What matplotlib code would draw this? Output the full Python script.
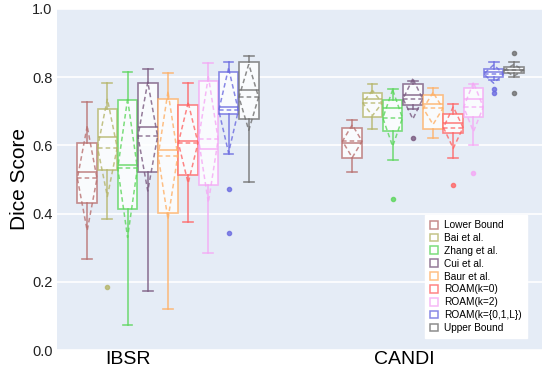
import numpy as np
import matplotlib
matplotlib.use('Agg')
from matplotlib import pyplot as plt
from matplotlib.patches import Patch

plt.rcParams['font.family'] = ['Liberation Sans', 'DejaVu Sans']

methods = ['Lower Bound', 'Bai et al.', 'Zhang et al.', 'Cui et al.', 'Baur et al.',
           'ROAM(k=0)', 'ROAM(k=2)', 'ROAM(k={0,1,L})', 'Upper Bound']
colors = ['#b87070', '#b5b56a', '#5cd65c', '#7a5a80', '#ffb066',
          '#ff6666', '#f5a8f5', '#6b6be0', '#707070']
datasets = ['IBSR', 'CANDI']

# IBSR statistics
ibsr_whislo = [0.267, 0.385, 0.074, 0.174, 0.119, 0.376, 0.284, 0.575, 0.492]
ibsr_q1 = [0.431, 0.528, 0.412, 0.523, 0.401, 0.512, 0.483, 0.692, 0.677]
ibsr_med = [0.521, 0.625, 0.541, 0.653, 0.587, 0.614, 0.590, 0.711, 0.762]
ibsr_q3 = [0.606, 0.705, 0.733, 0.782, 0.735, 0.717, 0.787, 0.816, 0.844]
ibsr_whishi = [0.727, 0.784, 0.815, 0.825, 0.811, 0.784, 0.842, 0.843, 0.861]
ibsr_mean = [0.503, 0.593, 0.533, 0.626, 0.570, 0.607, 0.617, 0.702, 0.741]
ibsr_sd = [0.153, 0.143, 0.203, 0.160, 0.187, 0.118, 0.185, 0.124, 0.097]
ibsr_fliers = [[], [0.184], [], [], [], [], [], [0.473, 0.343], []]

# CANDI statistics
candi_whislo = [0.522, 0.648, 0.558, 0.705, 0.622, 0.563, 0.602, 0.790, 0.799]
candi_q1 = [0.563, 0.683, 0.643, 0.719, 0.648, 0.636, 0.682, 0.799, 0.812]
candi_med = [0.608, 0.736, 0.709, 0.748, 0.722, 0.665, 0.737, 0.814, 0.822]
candi_q3 = [0.650, 0.753, 0.734, 0.780, 0.747, 0.693, 0.768, 0.824, 0.830]
candi_whishi = [0.675, 0.779, 0.766, 0.789, 0.768, 0.721, 0.781, 0.843, 0.843]
candi_mean = [0.612, 0.724, 0.680, 0.736, 0.708, 0.652, 0.712, 0.809, 0.820]
candi_sd = [0.048, 0.037, 0.083, 0.059, 0.047, 0.061, 0.072, 0.027, 0.017]
candi_fliers = [[], [], [0.443], [0.620], [], [0.483], [0.520], [0.764, 0.752], [0.871, 0.753]]

group_stats = [
    (ibsr_whislo, ibsr_q1, ibsr_med, ibsr_q3, ibsr_whishi, ibsr_mean, ibsr_sd, ibsr_fliers),
    (candi_whislo, candi_q1, candi_med, candi_q3, candi_whishi, candi_mean, candi_sd, candi_fliers),
]

slot = 0.0762
width = 0.074
lw = 1.2
alpha = 0.8

fig = plt.figure(figsize=(5.42, 3.77), dpi=100)
ax = fig.add_axes([0.105, 0.0716, 0.895, 0.905])
ax.set_facecolor('#e5ecf6')
for s in ax.spines.values():
    s.set_visible(False)
ax.grid(axis='y', color='white', linewidth=1.2)
ax.set_axisbelow(True)

for g, (wlo, q1, med, q3, whi, mean, sd, fl) in enumerate(group_stats):
    for i in range(len(methods)):
        pos = g + (i - 4) * slot
        c = colors[i]
        st = [dict(med=med[i], q1=q1[i], q3=q3[i], whislo=wlo[i], whishi=whi[i],
                   fliers=fl[i])]
        ax.bxp(st, positions=[pos], widths=width, patch_artist=True,
               showfliers=True,
               boxprops=dict(facecolor='white', edgecolor=c, linewidth=lw, alpha=alpha),
               medianprops=dict(color=c, linewidth=lw, alpha=alpha),
               whiskerprops=dict(color=c, linewidth=lw, alpha=alpha),
               capprops=dict(color=c, linewidth=lw, alpha=alpha),
               capwidths=width / 2,
               flierprops=dict(marker='o', markerfacecolor=c, markeredgecolor=c,
                               markersize=3, linestyle='none', alpha=alpha))
        half = width / 2
        # mean line and +-sd diamond, dashed
        ax.plot([pos - half, pos + half], [mean[i], mean[i]], color=c, alpha=alpha,
                linestyle=(0, (3, 2)), linewidth=1.1, zorder=4)
        ax.plot([pos, pos - half, pos, pos + half, pos],
                [mean[i] + sd[i], mean[i], mean[i] - sd[i], mean[i], mean[i] + sd[i]],
                color=c, alpha=alpha, linestyle=(0, (3, 2)), linewidth=1.1, zorder=4)

ax.set_xlim(-0.419, 1.411)
ax.set_ylim(0, 1.0)
ax.set_yticks(np.arange(0, 1.01, 0.2))
ax.set_yticklabels([f'{v:.1f}' for v in np.arange(0, 1.01, 0.2)], fontsize=10.5, color='#222222')
ax.set_xticks([-0.152, 0.893])
ax.set_xticklabels(datasets, fontsize=14, color='black')
ax.tick_params(axis='both', length=0)
ax.tick_params(axis='y', pad=3)
ax.tick_params(axis='x', pad=1)
ax.set_ylabel('Dice Score', fontsize=15, color='black', labelpad=2)

handles = [Patch(facecolor='white', edgecolor=c, linewidth=1.1, alpha=alpha) for c in colors]
leg = ax.legend(handles, methods, loc='lower right', bbox_to_anchor=(527 / 542, 1 - 338 / 377),
                bbox_transform=fig.transFigure, fontsize=7.3, frameon=True, fancybox=False,
                handlelength=0.8, handleheight=0.8, handletextpad=0.6, labelspacing=0.28,
                borderpad=0.5, borderaxespad=0)
leg.get_frame().set_edgecolor('white')
leg.get_frame().set_facecolor('white')
leg.get_frame().set_alpha(1)

plt.savefig('out.png', dpi=100)
